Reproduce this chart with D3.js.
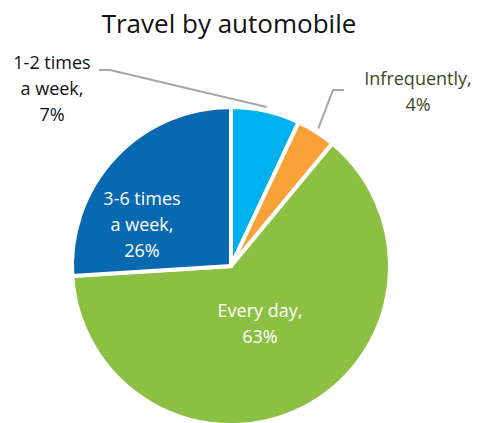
<!DOCTYPE html>
<html>
<head>
<meta charset="utf-8">
<script src="https://cdn.jsdelivr.net/npm/d3@7"></script>
<style>
  body { margin: 0; background: #fff; }
  svg text { font-family: "Open Sans", sans-serif; }
</style>
</head>
<body>
<svg id="chart" width="478" height="423"></svg>
<script>
// data
const categories = ["1-2 times a week", "Infrequently", "Every day", "3-6 times a week"];
const values = [7, 4, 63, 26];
const colors = ["#00b0ef", "#f8a136", "#8cc043", "#0868b0"];
const labelLines = [["1-2 times", "a week,", "7%"], ["Infrequently,", "4%"], ["Every day,", "63%"], ["3-6 times", "a week,", "26%"]];

const svg = d3.select("#chart");
const cx = 231, cy = 266, r = 159;

svg.append("text")
  .attr("x", 229).attr("y", 33)
  .attr("text-anchor", "middle")
  .attr("font-size", 26)
  .attr("fill", "#111")
  .text("Travel by automobile");

const pie = d3.pie().sort(null).value(d => d);
const arcs = pie(values);
const arc = d3.arc().innerRadius(0).outerRadius(r);

const g = svg.append("g").attr("transform", `translate(${cx},${cy})`);

g.selectAll("path.slice")
  .data(arcs)
  .enter()
  .append("path")
  .attr("class", "slice")
  .attr("d", arc)
  .attr("fill", (d, i) => colors[i])
  .attr("stroke", "#fff")
  .attr("stroke-width", 4)
  .attr("stroke-linejoin", "miter");

// leader lines for the small slices
const outer = d3.arc().innerRadius(163).outerRadius(163);
function leader(i, bend, end) {
  const p = outer.centroid(arcs[i]);
  g.append("polyline")
    .attr("points", [p, bend, end].map(q => q.join(",")).join(" "))
    .attr("fill", "none")
    .attr("stroke", "#a6a6a6")
    .attr("stroke-width", 2);
}
leader(0, [110 - cx, 70 - cy], [99 - cx, 70 - cy]);
leader(1, [333 - cx, 90 - cy], [344 - cx, 90 - cy]);

function label(i, x, y, color) {
  const t = svg.append("text")
    .attr("text-anchor", "middle")
    .attr("font-size", 18)
    .attr("fill", color);
  labelLines[i].forEach((s, k) => {
    t.append("tspan").attr("x", x).attr("y", y + k * 26).text(s);
  });
}
label(0, 52, 69, "#111");
label(1, 418, 85, "#3b4a1c");
label(3, 142, 205, "#fff");
label(2, 260, 317, "#fff");
</script>
</body>
</html>
